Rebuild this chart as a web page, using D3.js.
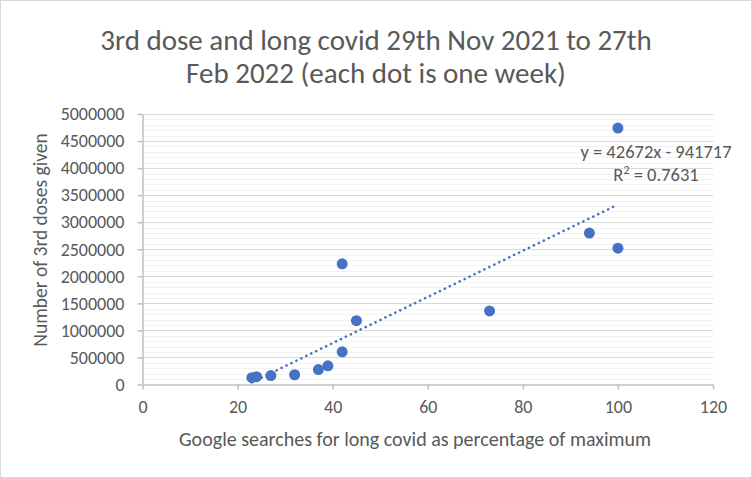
<!DOCTYPE html>
<html>
<head>
<meta charset="utf-8">
<script src="https://cdn.jsdelivr.net/npm/d3@7"></script>
<style>
  body { margin: 0; background: #fff; }
  svg text { font-family: Carlito, Calibri, "Open Sans", sans-serif; fill: #595959; }
</style>
</head>
<body>
<div id="chart"></div>
<script>
// weekly points: google searches (% of max) vs 3rd doses given
const searchPct = [23, 24, 27, 32, 37, 39, 42, 45, 42, 73, 94, 100, 100];
const dosesGiven = [126000, 145000, 165000, 180000, 275000, 345000, 605000, 1180000, 2230000, 1360000, 2800000, 2520000, 4740000];
const xTicks = [0, 20, 40, 60, 80, 100, 120];
const yTicks = [0, 500000, 1000000, 1500000, 2000000, 2500000, 3000000, 3500000, 4000000, 4500000, 5000000];
const slope = 42672, intercept = -941717, rSquared = "0.7631";

const W = 752, H = 478;
const svg = d3.select("#chart").append("svg").attr("width", W).attr("height", H);

svg.append("rect").attr("x", 0.5).attr("y", 0.5).attr("width", W - 1).attr("height", H - 1)
  .attr("fill", "#fff").attr("stroke", "#d9d9d9");

const x = d3.scaleLinear().domain([0, 120]).range([142.5, 713]);
const y = d3.scaleLinear().domain([0, 5000000]).range([384.5, 114]);

// minor gridlines every 100000
const minor = d3.range(100000, 5000000, 100000).filter(v => v % 500000 !== 0);
svg.append("g").selectAll("line").data(minor).join("line")
  .attr("x1", x(0)).attr("x2", x(120))
  .attr("y1", d => Math.round(y(d)) + 0.5).attr("y2", d => Math.round(y(d)) + 0.5)
  .attr("stroke", "#f2f2f2");

// major gridlines
svg.append("g").selectAll("line").data(yTicks.slice(1)).join("line")
  .attr("x1", x(0)).attr("x2", x(120))
  .attr("y1", d => Math.round(y(d)) + 0.5).attr("y2", d => Math.round(y(d)) + 0.5)
  .attr("stroke", "#d9d9d9");

// axes
const xAxis = svg.append("g").attr("transform", "translate(0," + y(0) + ")")
  .call(d3.axisBottom(x).tickValues(xTicks).tickSize(5).tickPadding(11).tickSizeOuter(0));
const yAxis = svg.append("g").attr("transform", "translate(" + x(0) + ",0)")
  .call(d3.axisLeft(y).tickValues(yTicks).tickFormat(d3.format("d")).tickSize(5).tickPadding(13).tickSizeOuter(0));
[xAxis, yAxis].forEach(a => {
  a.select(".domain").attr("stroke", "#bfbfbf").attr("stroke-width", 1.5);
  a.selectAll(".tick line").attr("stroke", "#bfbfbf").attr("stroke-width", 1.5);
  a.selectAll(".tick text").style("font-size", "18px").attr("fill", "#595959");
});

// linear trendline across data range
const xMin = d3.min(searchPct), xMax = d3.max(searchPct);
svg.append("line")
  .attr("x1", x(xMin)).attr("y1", y(slope * xMin + intercept))
  .attr("x2", x(xMax)).attr("y2", y(slope * xMax + intercept))
  .attr("stroke", "#4472c4").attr("stroke-width", 2.6)
  .attr("stroke-linecap", "round").attr("stroke-dasharray", "0.1 5.4");

// points
svg.append("g").selectAll("circle").data(searchPct).join("circle")
  .attr("cx", d => x(d)).attr("cy", (d, i) => y(dosesGiven[i]))
  .attr("r", 5.5).attr("fill", "#4472c4");

// trendline label
svg.append("text").attr("x", 656).attr("y", 158).attr("text-anchor", "middle")
  .style("font-size", "18.5px").text("y = " + slope + "x - " + Math.abs(intercept));
svg.append("text").attr("x", 656).attr("y", 181).attr("text-anchor", "middle")
  .style("font-size", "18.5px").html("R<tspan dy='-7' style='font-size:12px'>2</tspan><tspan dy='7'> = " + rSquared + "</tspan>");

// title
svg.append("text").attr("x", 376).attr("y", 50).attr("text-anchor", "middle")
  .style("font-size", "29px").text("3rd dose and long covid 29th Nov 2021 to 27th");
svg.append("text").attr("x", 376).attr("y", 83).attr("text-anchor", "middle")
  .style("font-size", "29px").text("Feb 2022 (each dot is one week)");

// axis titles
svg.append("text").attr("x", 415).attr("y", 446).attr("text-anchor", "middle")
  .style("font-size", "20px").text("Google searches for long covid as percentage of maximum");
svg.append("text").attr("transform", "translate(47,240) rotate(-90)").attr("text-anchor", "middle")
  .style("font-size", "19.5px").text("Number of 3rd doses given");
</script>
</body>
</html>
